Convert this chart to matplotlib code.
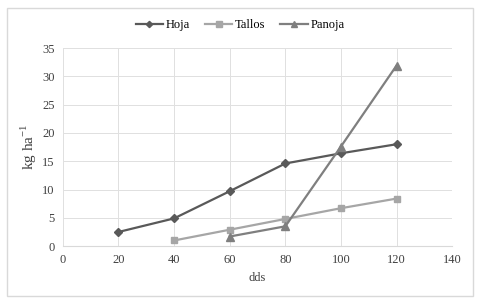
import numpy as np
import matplotlib.pyplot as plt
from matplotlib.patches import Rectangle

plt.rcParams['font.family'] = ['Liberation Serif', 'DejaVu Serif']
plt.rcParams['mathtext.fontset'] = 'custom'
plt.rcParams['mathtext.rm'] = 'Liberation Serif'
plt.rcParams['axes.unicode_minus'] = False

# data
dias_hoja = [20, 40, 60, 80, 100, 120]
hoja = [2.5, 4.9, 9.7, 14.6, 16.4, 18.0]
dias_tallos = [40, 60, 80, 100, 120]
tallos = [1.0, 2.9, 4.8, 6.7, 8.4]
dias_panoja = [60, 80, 100, 120]
panoja = [1.7, 3.5, 17.6, 31.9]

fig = plt.figure(figsize=(4.8, 3.02), dpi=100)
fig.patches.append(Rectangle((0.015, 0.02), 0.97, 0.955, transform=fig.transFigure,
                             fill=False, edgecolor='#d9d9d9', linewidth=1))
ax = fig.add_axes([0.131, 0.185, 0.811, 0.656])

ax.plot(dias_hoja, hoja, color='#595959', marker='D', markersize=4, linewidth=1.6, label='Hoja')
ax.plot(dias_tallos, tallos, color='#a6a6a6', marker='s', markersize=5, linewidth=1.6, label='Tallos')
ax.plot(dias_panoja, panoja, color='#7f7f7f', marker='^', markersize=5.5, linewidth=1.6, label='Panoja')

ax.set_xlim(0, 140)
ax.set_ylim(0, 35)
ax.set_xticks(np.arange(0, 141, 20))
ax.set_yticks(np.arange(0, 36, 5))
ax.grid(True, color='#e0e0e0', linewidth=0.7)
ax.set_axisbelow(True)
for s in ['top', 'right', 'left']:
    ax.spines[s].set_visible(False)
ax.spines['bottom'].set_color('#d9d9d9')
ax.tick_params(length=0, labelsize=9, colors='#404040', pad=6)

ax.set_xlabel('dds', fontsize=9, color='#404040', labelpad=4)
ax.set_ylabel('kg ha$^{\\mathrm{-1}}$', fontsize=11, color='#404040', labelpad=2)

fig.legend(loc='center', bbox_to_anchor=(0.5, 0.917), ncol=3, frameon=False,
           fontsize=9, handlelength=2.2, columnspacing=1.2, handletextpad=0.2,
           markerscale=0.8)

fig.savefig('out.png', dpi=100)
